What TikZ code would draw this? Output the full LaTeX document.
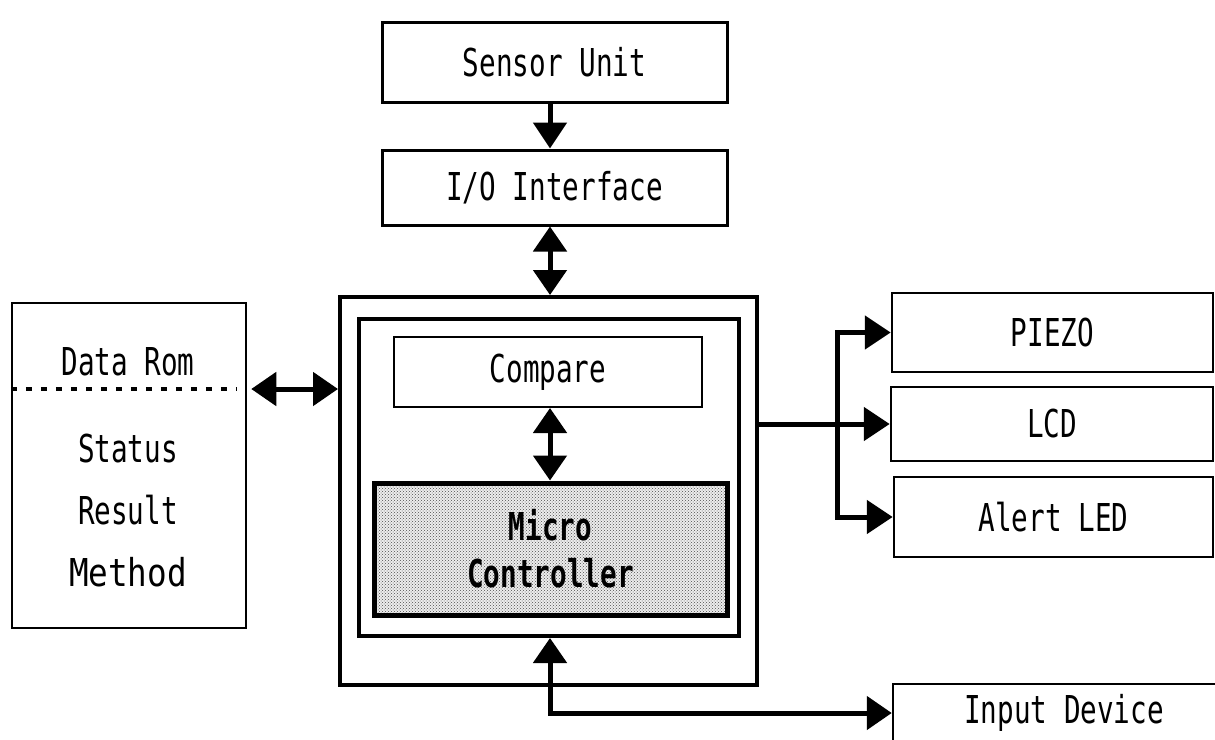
\documentclass[tikz,border=0pt]{standalone}
\usepackage{fontspec}
\newfontfamily\dfont[FakeStretch=0.72]{DejaVu Sans Mono}
\newfontfamily\mfont[FakeStretch=0.85]{DejaVu Sans Mono}
\usetikzlibrary{arrows.meta,patterns,calc}
\begin{document}
\begin{tikzpicture}[x=1pt,y=-1pt,
  box/.style={draw, line width=2.5pt, inner sep=0pt, align=center,
    font=\dfont\fontsize{38.4}{49}\selectfont},
  txt/.style={inner sep=0pt, font=\dfont\fontsize{38.4}{49}\selectfont},
  conn/.style={line width=5pt, -{Triangle[length=26pt,width=33pt]}},
  dconn/.style={line width=5pt, {Triangle[length=25pt,width=33pt]}-{Triangle[length=25pt,width=33pt]}}
]
\useasboundingbox (0,0) rectangle (1215,739);

\coordinate (spine) at (550,0);
\coordinate (busx) at (837,0);
\coordinate (sep) at (0,389);

% top boxes
\node[box, line width=3pt, minimum width=345pt, minimum height=80pt] (sensor) at (554.5,62) {Sensor Unit};
\node[box, line width=3pt, minimum width=345pt, minimum height=75pt] (io) at (554.5,187.5) {I/O Interface};

% main block
\node[draw, line width=4pt, minimum width=417pt, minimum height=388pt] (outer) at (548.5,491) {};
\node[draw, line width=4pt, minimum width=380pt, minimum height=317pt] (inner) at (549,477.5) {};
\node[box, line width=2pt, minimum width=308pt, minimum height=70pt] (compare) at (548,372) {Compare};
\node[box, line width=5pt, minimum width=353pt, minimum height=132pt,
  preaction={fill=gray!14}, pattern=crosshatch dots, pattern color=black!70,
  font=\dfont\bfseries\fontsize{38.4}{47}\selectfont] (micro) at (550.5,549) {Micro\\Controller};

% left data rom box
\node[box, minimum width=234pt, minimum height=325pt] (rom) at (129,465.5) {};
\coordinate (sepL) at (rom.west |- sep);
\coordinate (sepR) at ($(rom.east |- sep)+(-11,0)$);
\draw[line width=3.5pt, dash pattern=on 6pt off 9pt] (sepL) -- (sepR);
\node[txt] (datarom) at (128,362) {Data Rom};
\node[txt] (status) at (128,449) {Status};
\node[txt] (result) at (128,510) {Result};
\node[inner sep=0pt, font=\mfont\fontsize{38.4}{46}\selectfont] (method) at (128,572) {Method};

% right boxes
\node[box, minimum width=321pt, minimum height=79pt] (piezo) at (1052.5,332.5) {PIEZO};
\node[box, minimum width=322pt, minimum height=74pt] (lcd) at (1052,424) {LCD};
\node[box, minimum width=319pt, minimum height=80pt] (led) at (1053.5,517) {Alert LED};
\node[box, minimum width=342pt, minimum height=58pt] (input) at (1064,713) {Input Device};

% connectors
\draw[conn] (spine |- sensor.south) -- (spine |- io.north);
\draw[dconn] (spine |- io.south) -- (spine |- outer.north);
\draw[dconn] (spine |- compare.south) -- (spine |- micro.north);
\draw[dconn, shorten <=4pt] (rom.east |- sep) -- (outer.west |- sep);
\draw[conn] (outer.east |- lcd.west) -- (lcd.west);
\draw[conn] (busx |- lcd.west) |- (piezo.west);
\draw[conn] (busx |- lcd.west) |- (led.west);
\draw[dconn] (spine |- inner.south) |- (input.west);
\end{tikzpicture}
\end{document}
